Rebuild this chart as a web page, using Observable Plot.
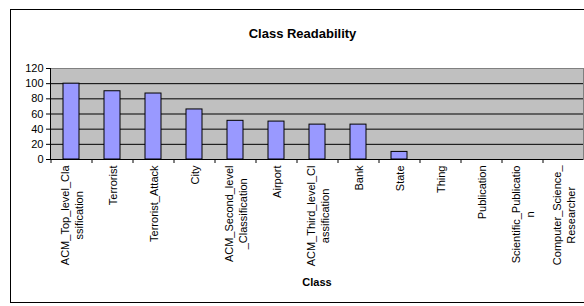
<!DOCTYPE html>
<html>
<head>
<meta charset="utf-8">
<script src="https://cdn.jsdelivr.net/npm/d3@7"></script>
<script src="https://cdn.jsdelivr.net/npm/@observablehq/plot@0.6"></script>
<style>
  html, body { margin: 0; padding: 0; background: #fff; overflow: hidden; }
  #wrap { position: relative; width: 584px; height: 306px; overflow: hidden; }
  #wrap svg { position: absolute; left: 0; top: 0; }
  #border { position: absolute; left: 10px; top: 9px; width: 600px; height: 294px; border: 1px solid #000; box-sizing: border-box; }
</style>
</head>
<body>
<div id="wrap"><div id="border"></div></div>
<script>
const chartTitle = "Class Readability";
const xTitle = "Class";
const categories = ["ACM_Top_level_Classification", "Terrorist", "Terrorist_Attack", "City",
  "ACM_Second_level_Classification", "Airport", "ACM_Third_level_Classification", "Bank",
  "State", "Thing", "Publication", "Scientific_Publication", "Computer_Science_Researcher"];
const values = [100, 90, 87, 66, 51, 50, 46, 46, 10, 0, 0, 0, 0];
const tickLabels = ["ACM_Top_level_Cla\nssification", "Terrorist", "Terrorist_Attack", "City",
  "ACM_Second_level\n_Classification", "Airport", "ACM_Third_level_Cl\nassification", "Bank",
  "State", "Thing", "Publication", "Scientific_Publicatio\nn", "Computer_Science_\nResearcher"];
const yTicks = [0, 20, 40, 60, 80, 100, 120];

const data = categories.map((c, i) => ({cat: c, value: values[i], label: tickLabels[i]}));

const W = 584, H = 306, mL = 50, mR = 1, mT = 68, mB = 147;
const step = (W - mL - mR) / categories.length;
const FONT = "'Liberation Sans', Arial, sans-serif";

const ctx = document.createElement("canvas").getContext("2d");
ctx.font = "11px " + FONT;
const maxLineWidth = s => Math.max(...s.split("\n").map(l => ctx.measureText(l).width));

const labelMarks = data.map(d => Plot.text([d], {
  x: "cat", text: "label", frameAnchor: "bottom", rotate: -90,
  textAnchor: "middle", lineAnchor: "middle", lineHeight: 1.25,
  dy: 6 + maxLineWidth(d.label) / 2, fontSize: 11, fill: "#000"
}));

const chart = Plot.plot({
  width: W, height: H,
  marginLeft: mL, marginRight: mR, marginTop: mT, marginBottom: mB,
  style: {fontFamily: FONT, fontSize: "11px", background: "transparent", color: "#000", overflow: "visible"},
  x: {domain: categories, paddingInner: 0.61, paddingOuter: 0.305, axis: null},
  y: {domain: [0, 120], axis: null},
  marks: [
    Plot.frame({fill: "#C0C0C0", stroke: "#808080"}),
    Plot.ruleY(yTicks.filter(v => v > 0 && v < 120), {stroke: "#000"}),
    Plot.barY(data, {x: "cat", y: "value", fill: "#9999FF", stroke: "#000", strokeWidth: 1}),
    Plot.ruleY([0], {stroke: "#000"}),
    Plot.frame({anchor: "left", stroke: "#000"}),
    Plot.axisY({ticks: yTicks, tickSize: 4, tickPadding: 3, fontSize: 11, color: "#000", label: null}),
    Plot.axisX({tickSize: 4, tickFormat: () => "", dx: -step / 2, color: "#000", label: null}),
    ...labelMarks,
    Plot.text([chartTitle], {frameAnchor: "top", dy: -40, dx: -14.5, fontWeight: "bold", fontSize: 13, fill: "#000"}),
    Plot.text([xTitle], {frameAnchor: "bottom", dy: 126, fontWeight: "bold", fontSize: 11, fill: "#000"})
  ]
});
document.getElementById("wrap").prepend(chart);
</script>
</body>
</html>
